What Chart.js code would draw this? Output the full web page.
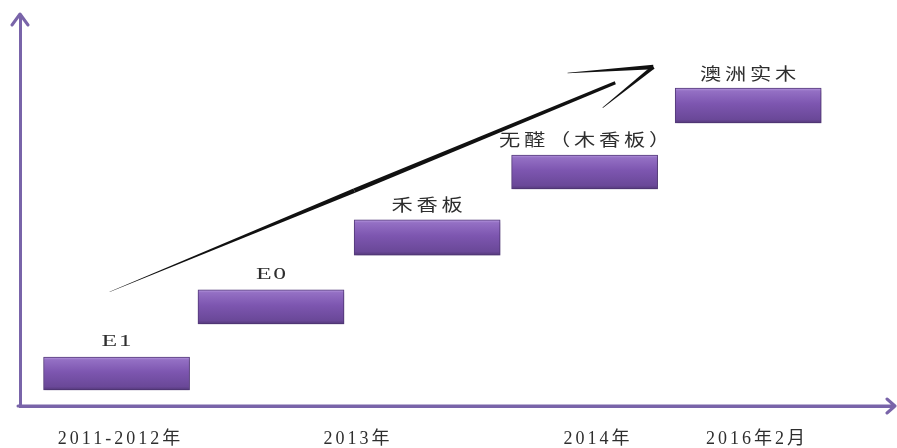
<!DOCTYPE html>
<html>
<head>
<meta charset="utf-8">
<script src="https://cdn.jsdelivr.net/npm/chart.js@4.4.1/dist/chart.umd.min.js"></script>
<style>
  html, body { margin: 0; padding: 0; background: #fff; }
  #wrap { width: 897px; height: 448px; }
</style>
</head>
<body>
<div id="wrap"><canvas id="chart"></canvas></div>
<script>
// stages of the board, bar centre on the x scale and the low/high level of each step
const stages = ["E1", "E0", "禾香板", "无醛（木香板）", "澳洲实木"];
const stageX = [11.1, 28.85, 46.8, 64.9, 83.7];
const stageLow = [4.1, 21.0, 38.6, 55.5, 72.4];
const stageHigh = [12.5, 29.7, 47.6, 64.2, 81.3];

// time labels under the x axis
const tickLabels = ["2011-2012年", "2013年", "2014年", "2016年2月"];
const tickValues = [11.55, 38.85, 66.45, 84.7];

// the trend arrow, in scale units
const arrowFrom = [10.3, 29.2];
const arrowTo = [72.8, 86.7];

const AXIS = "#7964a9";
const SERIF = '"Liberation Serif", "Noto Sans CJK SC", serif';

function barFill(c) {
  const chart = c.chart;
  if (!chart.chartArea || !c.parsed || !c.parsed._custom) return "#7b55a8";
  const ys = chart.scales.y;
  const top = ys.getPixelForValue(c.parsed._custom.max);
  const bot = ys.getPixelForValue(c.parsed._custom.min);
  const g = chart.ctx.createLinearGradient(0, top, 0, bot);
  g.addColorStop(0, "#b89be0");
  g.addColorStop(0.08, "#9470c4");
  g.addColorStop(0.45, "#7d56b0");
  g.addColorStop(0.9, "#6a4898");
  g.addColorStop(1, "#54397a");
  return g;
}

// tapered brush stroke from (x0,y0) to (x1,y1)
function taper(ctx, x0, y0, x1, y1, w0, w1) {
  const len = Math.hypot(x1 - x0, y1 - y0);
  const nx = -(y1 - y0) / len, ny = (x1 - x0) / len;
  ctx.beginPath();
  ctx.moveTo(x0 + nx * w0 / 2, y0 + ny * w0 / 2);
  ctx.lineTo(x1 + nx * w1 / 2, y1 + ny * w1 / 2);
  ctx.lineTo(x1 - nx * w1 / 2, y1 - ny * w1 / 2);
  ctx.lineTo(x0 - nx * w0 / 2, y0 - ny * w0 / 2);
  ctx.closePath();
  ctx.fill();
}

const decor = {
  id: "decor",
  beforeDraw(chart) {
    chart.ctx.letterSpacing = "3px";
  },
  beforeDatasetDraw(chart) {
    const c = chart.ctx;
    c.letterSpacing = "0px";
    c.save();
    c.shadowColor = "rgba(50,30,80,0.35)";
    c.shadowBlur = 4;
    c.shadowOffsetX = 1;
    c.shadowOffsetY = 2;
  },
  afterDatasetDraw(chart) {
    chart.ctx.restore();
  },
  afterDatasetsDraw(chart) {
    const { ctx, chartArea: a, scales: { x, y } } = chart;
    ctx.save();

    // axis arrow heads
    ctx.strokeStyle = AXIS;
    ctx.lineWidth = 3;
    ctx.lineCap = "round";
    ctx.lineJoin = "round";
    ctx.beginPath();
    ctx.moveTo(a.left - 8, a.top + 10);
    ctx.lineTo(a.left, a.top - 1);
    ctx.lineTo(a.left + 8, a.top + 10);
    ctx.moveTo(a.left - 2, a.bottom);
    ctx.lineTo(a.right + 5, a.bottom);
    ctx.moveTo(a.right - 3, a.bottom - 7);
    ctx.lineTo(a.right + 5, a.bottom);
    ctx.lineTo(a.right - 3, a.bottom + 7);
    ctx.stroke();

    // labels above the bars
    ctx.fillStyle = "#2e2e2e";
    ctx.textAlign = "center";
    ctx.textBaseline = "middle";
    chart.getDatasetMeta(0).data.forEach((bar, i) => {
      const latin = /^[A-Za-z0-9]+$/.test(stages[i]);
      const sx = latin ? 1.6 : 1.25;
      ctx.save();
      ctx.scale(sx, 1);
      ctx.font = latin ? `16px ${SERIF}` : `17px "Noto Sans CJK SC", serif`;
      ctx.letterSpacing = latin ? "1px" : "3px";
      ctx.fillText(stages[i], bar.x / sx + (latin ? 0.5 : 1.5), bar.y - 15);
      ctx.restore();
    });

    // trend arrow
    const px = x.getPixelForValue(arrowFrom[0]), py = y.getPixelForValue(arrowFrom[1]);
    const tx = x.getPixelForValue(arrowTo[0]), ty = y.getPixelForValue(arrowTo[1]);
    const dx = tx - px, dy = ty - py;
    ctx.fillStyle = "#111";
    const mx = px + dx * 0.45, my = py + dy * 0.45;
    const ex = px + dx * 0.93, ey = py + dy * 0.93;
    taper(ctx, px, py, mx, my, 0.4, 4.4);
    taper(ctx, mx, my, ex, ey, 4.4, 3);
    const back = Math.atan2(-dy, -dx);
    const w1 = back + 18.5 * Math.PI / 180, w2 = back - 16.3 * Math.PI / 180;
    taper(ctx, tx + Math.cos(w1) * 86, ty + Math.sin(w1) * 86, tx, ty, 0.6, 4.6);
    taper(ctx, tx + Math.cos(w2) * 65, ty + Math.sin(w2) * 65, tx, ty, 0.6, 4);
    ctx.restore();
  }
};

new Chart(document.getElementById("chart"), {
  type: "bar",
  data: {
    datasets: [{
      data: stages.map((s, i) => ({ x: stageX[i], y: [stageLow[i], stageHigh[i]] })),
      backgroundColor: barFill,
      borderColor: "#563b7d",
      borderWidth: 1,
      borderSkipped: false,
      barThickness: 146
    }]
  },
  options: {
    responsive: true,
    maintainAspectRatio: false,
    animation: false,
    layout: { padding: { left: 20, right: 7, top: 15, bottom: 0 } },
    plugins: { legend: { display: false }, tooltip: { enabled: false } },
    scales: {
      x: {
        type: "linear",
        min: 0,
        max: 100,
        offset: false,
        grid: { display: false, drawTicks: false },
        border: { display: true, color: AXIS, width: 3 },
        afterBuildTicks: (s) => { s.ticks = tickValues.map((v) => ({ value: v })); },
        afterFit: (s) => { s.height = 42; },
        ticks: {
          autoSkip: false,
          maxRotation: 0,
          padding: 22,
          color: "#2e2e2e",
          font: { family: SERIF, size: 18 },
          callback: (v, i) => tickLabels[i]
        }
      },
      y: {
        min: 0,
        max: 100,
        grid: { display: false, drawTicks: false },
        border: { display: true, color: AXIS, width: 3 },
        ticks: { display: false },
        afterFit: (s) => { s.width = 0; }
      }
    }
  },
  plugins: [decor]
});
</script>
</body>
</html>
